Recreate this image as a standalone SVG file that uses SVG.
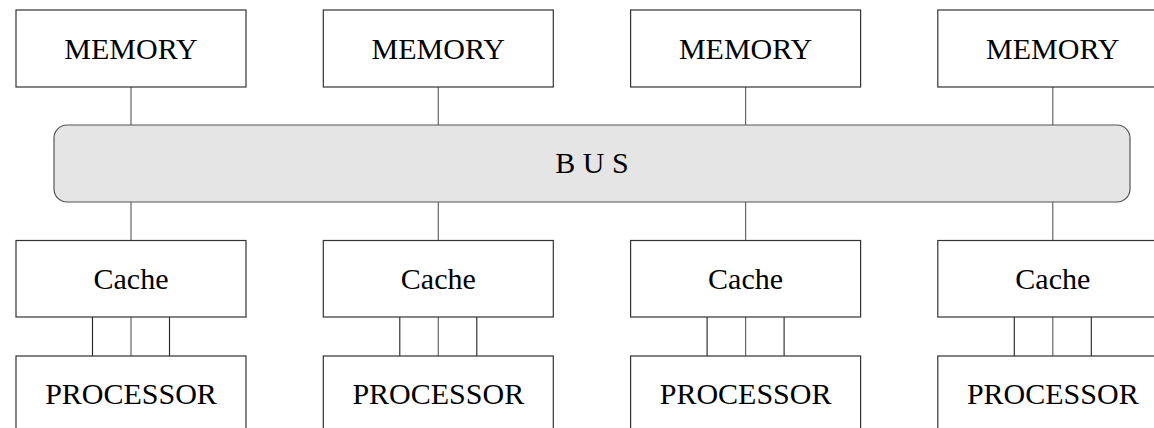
<svg xmlns="http://www.w3.org/2000/svg" width="1154" height="428" viewBox="0 0 1154 428">
  <style>
    .box { fill: #ffffff; stroke: #333333; stroke-width: 1.2; }
    .bus { fill: #e5e5e5; stroke: #555555; stroke-width: 1.2; }
    .lbl { font-family: "Liberation Serif", "Times New Roman", serif; font-size: 30px; fill: #000000; text-anchor: middle; }
    .wire { stroke: #666666; stroke-width: 1.2; fill: none; }
    .wire2 { stroke: #222222; stroke-width: 1.1; fill: none; }
  </style>
  <rect width="1154" height="428" fill="#ffffff"/>

  <!-- connectors -->
  <g id="connectors">
    <path class="wire" d="M131 87V125M438.3 87V125M745.6 87V125M1052.8 87V125"/>
    <path class="wire" d="M131 202V241M438.3 202V241M745.6 202V241M1052.8 202V241"/>
    <path class="wire" d="M131 317V356M438.3 317V356M745.6 317V356M1052.8 317V356"/>
    <path class="wire2" d="M92.5 317V356M169.5 317V356M399.8 317V356M476.8 317V356M707.1 317V356M784.1 317V356M1014.3 317V356M1091.3 317V356"/>
  </g>

  <!-- bus -->
  <g id="bus">
    <rect class="bus" x="54" y="125" width="1076" height="77" rx="13" ry="13"/>
    <text class="lbl" x="592" y="172.5" xml:space="preserve">B U S</text>
  </g>

  <!-- memories -->
  <g id="memory1"><rect class="box" x="16" y="10" width="230" height="77"/><text class="lbl" x="131" y="58.5">MEMORY</text></g>
  <g id="memory2"><rect class="box" x="323.3" y="10" width="230" height="77"/><text class="lbl" x="438.3" y="58.5">MEMORY</text></g>
  <g id="memory3"><rect class="box" x="630.6" y="10" width="230" height="77"/><text class="lbl" x="745.6" y="58.5">MEMORY</text></g>
  <g id="memory4"><rect class="box" x="937.8" y="10" width="230" height="77"/><text class="lbl" x="1052.8" y="58.5">MEMORY</text></g>

  <!-- caches -->
  <g id="cache1"><rect class="box" x="16" y="240.5" width="230" height="76.5"/><text class="lbl" x="131" y="289">Cache</text></g>
  <g id="cache2"><rect class="box" x="323.3" y="240.5" width="230" height="76.5"/><text class="lbl" x="438.3" y="289">Cache</text></g>
  <g id="cache3"><rect class="box" x="630.6" y="240.5" width="230" height="76.5"/><text class="lbl" x="745.6" y="289">Cache</text></g>
  <g id="cache4"><rect class="box" x="937.8" y="240.5" width="230" height="76.5"/><text class="lbl" x="1052.8" y="289">Cache</text></g>

  <!-- processors -->
  <g id="processor1"><rect class="box" x="16" y="356" width="230" height="77"/><text class="lbl" x="131" y="403.5">PROCESSOR</text></g>
  <g id="processor2"><rect class="box" x="323.3" y="356" width="230" height="77"/><text class="lbl" x="438.3" y="403.5">PROCESSOR</text></g>
  <g id="processor3"><rect class="box" x="630.6" y="356" width="230" height="77"/><text class="lbl" x="745.6" y="403.5">PROCESSOR</text></g>
  <g id="processor4"><rect class="box" x="937.8" y="356" width="230" height="77"/><text class="lbl" x="1052.8" y="403.5">PROCESSOR</text></g>
</svg>
